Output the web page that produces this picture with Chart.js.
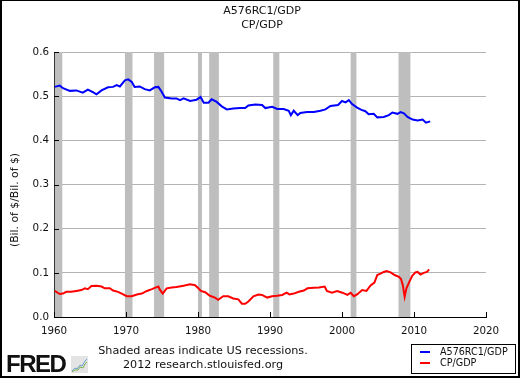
<!DOCTYPE html>
<html>
<head>
<meta charset="utf-8">
<script src="https://cdn.jsdelivr.net/npm/chart.js@4"></script>
<style>
  html, body { margin: 0; padding: 0; background: #fff; }
  #wrap { position: relative; width: 520px; height: 378px; overflow: hidden; font-family: "DejaVu Sans", sans-serif; color: #111; }
  #c { position: absolute; left: 0; top: 0; }
  .frame { position: absolute; left: 0; top: 0; width: 520px; height: 378px; box-sizing: border-box;
           border-style: solid; border-color: #000; border-width: 1px 2px 2px 2px; pointer-events: none; }
  .ttl { position: absolute; left: 162px; width: 200px; text-align: center; font-size: 11px; line-height: 14px; white-space: nowrap; }
  .note { position: absolute; left: 53px; width: 300px; text-align: center; font-size: 11.2px; line-height: 14px; white-space: nowrap; }
  #ytitle { position: absolute; left: -35px; top: 193px; width: 100px; height: 14px; line-height: 14px; text-align: center;
            font-size: 10.8px; white-space: nowrap; transform: rotate(-90deg); transform-origin: 50% 50%; }
  #legend { position: absolute; left: 411px; top: 344px; width: 105px; height: 30px; box-sizing: border-box;
            border: 1px solid #000; background: #fff; }
  .li { position: absolute; left: 8px; height: 12px; font-size: 9.6px; line-height: 12px; white-space: nowrap; }
  .li span.sw { position: absolute; left: 0; top: 5px; width: 10px; height: 2px; }
  .li span.tx { position: absolute; left: 20px; top: 0; }
  #fred { position: absolute; left: 6px; top: 350px; font-family: "Liberation Sans", Arial, sans-serif; font-weight: bold;
          font-size: 24px; letter-spacing: -1.5px; line-height: 28px; color: #111; }
  #icon { position: absolute; left: 71px; top: 356px; }
</style>
</head>
<body>
<div id="wrap">
  <canvas id="c" width="520" height="378"></canvas>
  <div class="ttl" style="top:4px">A576RC1/GDP</div>
  <div class="ttl" style="top:18px">CP/GDP</div>
  <div id="ytitle">(Bil. of $/Bil. of $)</div>
  <div class="note" style="top:344px">Shaded areas indicate US recessions.</div>
  <div class="note" style="top:358px">2012 research.stlouisfed.org</div>
  <div id="fred">FRED</div>
  <svg id="icon" width="17" height="17" viewBox="0 0 17 17">
    <rect x="0" y="0" width="17" height="17" fill="#e4e4e4"/>
    <polyline points="1,15 4,12 6,13 9,9 11,10 14,5 16,3" fill="none" stroke="#6a9fd0" stroke-width="1"/>
    <polyline points="1,16 4,14 7,14 9,11 12,12 14,8 16,6" fill="none" stroke="#7fb24a" stroke-width="1"/>
  </svg>
  <div id="legend"></div>
  <div class="frame"></div>
</div>
<script>
// ---------- data ----------
const seriesLabels = ["A576RC1/GDP", "CP/GDP"];
const seriesColors = ["#0000ff", "#ff0000"];

const a576Dates = [1960.1,1960.8,1961.25,1962.2,1963.1,1964.0,1964.7,1965.4,1965.9,1966.6,1967.5,1968.2,1968.7,1969.15,1969.85,1970.3,1970.8,1971.2,1971.9,1972.6,1973.3,1974.0,1974.5,1974.95,1975.4,1976.35,1977.0,1977.5,1978.0,1978.9,1979.8,1980.35,1980.8,1981.45,1981.9,1982.6,1983.3,1984.0,1984.9,1985.85,1986.55,1987.0,1987.95,1988.9,1989.35,1990.3,1991.0,1991.9,1992.6,1992.9,1993.3,1993.85,1994.2,1995.15,1996.1,1997.0,1997.7,1998.4,1999.45,2000.0,2000.5,2000.95,2001.4,2002.1,2002.7,2003.25,2003.7,2004.4,2004.9,2005.8,2006.5,2007.0,2007.7,2008.15,2008.6,2009.1,2009.8,2010.5,2011.2,2011.65,2012.25];
const a576Values = [0.521,0.524,0.518,0.512,0.513,0.508,0.515,0.509,0.504,0.513,0.520,0.521,0.525,0.522,0.536,0.538,0.532,0.521,0.522,0.516,0.513,0.520,0.521,0.510,0.497,0.495,0.495,0.491,0.495,0.489,0.492,0.498,0.485,0.485,0.493,0.487,0.477,0.470,0.472,0.473,0.473,0.479,0.481,0.480,0.473,0.476,0.471,0.471,0.467,0.457,0.467,0.457,0.462,0.464,0.464,0.467,0.470,0.478,0.480,0.489,0.486,0.491,0.482,0.474,0.469,0.466,0.459,0.460,0.452,0.453,0.457,0.463,0.460,0.464,0.461,0.453,0.447,0.445,0.447,0.440,0.443];

const cpDates = [1960.1,1960.8,1961.25,1961.7,1962.4,1963.1,1963.8,1964.3,1964.7,1965.2,1965.9,1966.6,1967.05,1967.75,1968.2,1968.9,1969.4,1970.1,1970.8,1971.5,1972.2,1972.9,1973.6,1974.0,1974.5,1974.7,1975.1,1975.65,1976.35,1977.0,1978.0,1978.9,1979.6,1980.05,1980.4,1981.0,1981.65,1982.35,1982.8,1983.5,1984.2,1984.9,1985.6,1986.1,1986.55,1987.0,1987.7,1988.4,1988.9,1989.6,1990.3,1991.0,1991.7,1992.3,1992.7,1993.3,1994.0,1994.7,1995.2,1996.1,1996.8,1997.6,1997.9,1998.6,1999.35,2000.05,2000.75,2001.2,2001.65,2002.1,2002.8,2003.4,2004.0,2004.5,2004.9,2005.35,2005.8,2006.2,2006.75,2007.3,2007.9,2008.2,2008.45,2008.7,2008.95,2009.3,2009.75,2010.2,2010.5,2010.9,2011.35,2011.8,2012.1];
const cpValues = [0.059,0.052,0.053,0.057,0.057,0.059,0.061,0.065,0.063,0.070,0.071,0.069,0.065,0.065,0.060,0.057,0.053,0.047,0.047,0.051,0.053,0.059,0.063,0.066,0.069,0.062,0.053,0.065,0.067,0.068,0.071,0.074,0.072,0.065,0.059,0.056,0.048,0.044,0.039,0.047,0.047,0.042,0.040,0.030,0.030,0.035,0.047,0.051,0.050,0.044,0.047,0.048,0.050,0.055,0.051,0.053,0.057,0.060,0.065,0.066,0.067,0.069,0.059,0.055,0.059,0.055,0.050,0.055,0.047,0.051,0.061,0.059,0.072,0.078,0.095,0.098,0.102,0.104,0.101,0.095,0.091,0.086,0.072,0.046,0.065,0.078,0.093,0.101,0.102,0.096,0.100,0.102,0.108];

const recessionStarts = [1960.1, 1969.85, 1973.9, 1980.0, 1981.55, 1990.45, 2001.2, 2007.85];
const recessionEnds   = [1961.15, 1970.9, 1975.3, 1980.55, 1982.9, 1991.3, 2002.0, 2009.5];

const xTickValues = [1960, 1970, 1980, 1990, 2000, 2010, 2020];
const yTickValues = [0.0, 0.1, 0.2, 0.3, 0.4, 0.5, 0.6];

// ---------- plugins ----------
const recessionPlugin = {
  id: 'recessions',
  beforeDatasetsDraw(chart) {
    const {ctx, chartArea, scales: {x}} = chart;
    ctx.save();
    ctx.fillStyle = '#bebebe';
    recessionStarts.forEach((s, i) => {
      const x0 = x.getPixelForValue(s), x1 = x.getPixelForValue(recessionEnds[i]);
      ctx.fillRect(x0, chartArea.top, x1 - x0, chartArea.bottom - chartArea.top);
    });
    ctx.restore();
  }
};
const inwardTicks = {
  id: 'inwardTicks',
  afterDraw(chart) {
    const {ctx, chartArea, scales: {x, y}} = chart;
    ctx.save();
    ctx.strokeStyle = '#000';
    ctx.lineWidth = 1;
    ctx.beginPath();
    y.ticks.forEach((t, i) => {
      const py = Math.round(y.getPixelForTick(i)) + 0.5;
      ctx.moveTo(chartArea.left, py); ctx.lineTo(chartArea.left + 5, py);
    });
    x.ticks.forEach((t, i) => {
      const px = Math.round(x.getPixelForTick(i)) + 0.5;
      ctx.moveTo(px, chartArea.bottom); ctx.lineTo(px, chartArea.bottom - 5);
    });
    ctx.stroke();
    ctx.restore();
  }
};

const tickFont = { family: 'DejaVu Sans', size: 10.3 };

const chart = new Chart(document.getElementById('c'), {
  type: 'line',
  data: {
    datasets: [
      { label: seriesLabels[0], data: a576Dates.map((d, i) => ({ x: d, y: a576Values[i] })),
        borderColor: seriesColors[0], backgroundColor: seriesColors[0], borderWidth: 2, pointRadius: 0, tension: 0 },
      { label: seriesLabels[1], data: cpDates.map((d, i) => ({ x: d, y: cpValues[i] })),
        borderColor: seriesColors[1], backgroundColor: seriesColors[1], borderWidth: 2, pointRadius: 0, tension: 0 }
    ]
  },
  options: {
    responsive: false,
    animation: false,
    devicePixelRatio: 1,
    layout: { padding: { left: 0, right: 34, top: 52, bottom: 0 } },
    plugins: { legend: { display: false }, title: { display: false }, tooltip: { enabled: false } },
    scales: {
      x: {
        type: 'linear', min: 1960, max: 2020,
        afterBuildTicks: (s) => { s.ticks = xTickValues.map(v => ({ value: v })); },
        afterFit: (s) => { s.height = 61; },
        grid: { display: false, drawTicks: false },
        border: { display: true, color: '#000', width: 1 },
        ticks: { font: tickFont, color: '#111', padding: 8, maxRotation: 0, callback: (v) => String(v) }
      },
      y: {
        type: 'linear', min: 0, max: 0.6,
        afterBuildTicks: (s) => { s.ticks = yTickValues.map(v => ({ value: v })); },
        afterFit: (s) => { s.width = 54; },
        grid: { color: (c) => c.tick && c.tick.value === 0 ? 'rgba(0,0,0,0)' : '#b4b4b4', drawTicks: false },
        border: { display: true, color: '#000', width: 1 },
        ticks: { font: tickFont, color: '#111', padding: 5, callback: (v) => Number(v).toFixed(1) }
      }
    }
  },
  plugins: [recessionPlugin, inwardTicks]
});

// legend built from the chart's datasets
const lg = document.getElementById('legend');
chart.data.datasets.forEach((ds, i) => {
  const d = document.createElement('div');
  d.className = 'li';
  d.style.top = (1 + i * 11) + 'px';
  d.innerHTML = '<span class="sw" style="background:' + ds.borderColor + '"></span><span class="tx"></span>';
  d.querySelector('.tx').textContent = ds.label;
  lg.appendChild(d);
});
</script>
</body>
</html>
